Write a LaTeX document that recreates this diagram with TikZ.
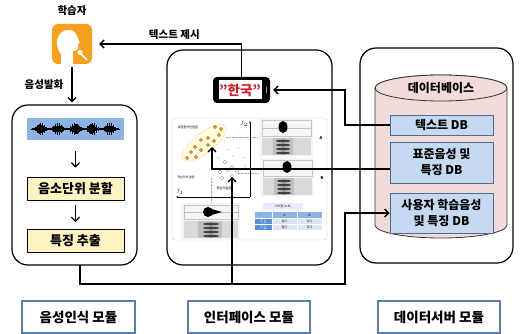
\documentclass[tikz,border=0pt]{standalone}
\usepackage{fontspec}
\setmainfont{Noto Sans CJK KR}
\usetikzlibrary{arrows.meta,calc}

\definecolor{iconorange}{HTML}{F5A01F}
\definecolor{wavebg}{HTML}{8DB3E2}
\definecolor{stepfill}{HTML}{FFF3C4}
\definecolor{dbfill}{HTML}{C5D9F1}
\definecolor{dbline}{HTML}{4F6B8A}
\definecolor{cylfill}{HTML}{F2DCDB}
\definecolor{tagline}{HTML}{5B7FA6}
\definecolor{dotorange}{HTML}{E2A634}
\definecolor{tblhead}{HTML}{8EB4E3}
\definecolor{tbldark}{HTML}{5B8FD3}
\definecolor{tbllight}{HTML}{DCE6F2}
\definecolor{phonered}{HTML}{D0202E}

\tikzset{
  module/.style={draw, line width=1.2pt, rounded corners=16pt, inner sep=0pt},
  stepbox/.style={draw, line width=0.8pt, fill=stepfill, inner sep=0pt,
    minimum width=97pt, minimum height=23pt, font=\fontsize{13}{15}\selectfont\bfseries},
  dbbox/.style={draw=dbline, line width=0.9pt, fill=dbfill, inner sep=0pt, align=center,
    minimum width=103pt, font=\fontsize{12}{16}\selectfont\bfseries},
  tagbox/.style={draw=tagline, line width=1.3pt, fill=white, inner sep=0pt,
    minimum height=32pt, font=\fontsize{13.5}{15}\selectfont\bfseries},
  wire/.style={line width=1.3pt},
  conn/.style={wire, -{Straight Barb[length=4pt,width=8pt]}},
  lbl/.style={font=\fontsize{10.5}{12}\selectfont\bfseries, inner sep=1pt},
  tiny/.style={font=\fontsize{3}{3.5}\selectfont, inner sep=0.6pt},
  spec/.style={draw=gray!45, line width=0.3pt},
}

\begin{document}
\begin{tikzpicture}[x=1pt,y=-1pt]
\useasboundingbox (0,0) rectangle (520,334);

% ---------- learner ----------
\node[lbl] (learnerlbl) at (72,11) {학습자};
\node[fill=iconorange, rounded corners=6pt, minimum size=40pt, inner sep=0pt] (icon) at (72,44) {};
\begin{scope}[shift={(icon.center)}]
  \fill[white] (-11,20) -- (-11,10) .. controls (-16,4) and (-17,-6) .. (-11,-11)
    .. controls (-6,-16) and (3,-15) .. (5,-8) -- (8,-1) -- (6,0) -- (6,4)
    .. controls (6,6) and (4,7) .. (1,7) -- (1,20) -- cycle;
  \draw[white, line width=1.6pt] (8,9) -- (15,16);
  \fill[white] (8,8.5) circle (2.6pt);
\end{scope}

% ---------- speech recognition module ----------
\node[module, minimum width=125pt, minimum height=160pt] (leftmod) at (74.5,185) {};
\node[fill=wavebg, minimum width=97pt, minimum height=22pt, inner sep=0pt] (wave) at (75.5,129) {};
\draw[line width=0.4pt] (31,129) -- (120,129);
\foreach \i in {0,...,86}{
  \pgfmathsetmacro\env{abs(sin(\i*10.5))}
  \pgfmathsetmacro\amp{0.5+6*\env*\env*(0.35+0.65*abs(sin(\i*83)))}
  \draw[line width=0.7pt] (32+\i,129-\amp) -- (32+\i,129+\amp);
}
\node[stepbox] (seg) at (75.5,188.5) {음소단위 분할};
\node[stepbox] (feat) at (75.5,241) {특징 추출};
\draw[conn, shorten <=11pt, shorten >=9pt] (wave.south) -- (seg.north);
\draw[conn, shorten <=5pt, shorten >=7pt] (seg.south) -- (feat.north);

% ---------- interface module ----------
\node[module, minimum width=165pt, minimum height=215pt] (ifmod) at (249.5,157.5) {};
\node[fill=black, rounded corners=4pt, minimum width=57pt, minimum height=26pt, inner sep=0pt] (phone) at (241.5,90) {};
\node[fill=white, minimum width=43pt, minimum height=19pt, inner sep=0pt,
  text=phonered, font=\fontsize{13.5}{15}\selectfont\bfseries] (screen) at (240,90) {"한국"};
\draw[gray!70, line width=1pt] (266.5,87) -- (266.5,93);

% analysis panel
\node[draw=gray!40, fill=white, rounded corners=3pt, minimum width=155pt, minimum height=122pt, inner sep=0pt] (panel) at (249.5,179) {};
% vowel space
\draw[fill=yellow!12, draw=orange!35, line width=0.4pt, rotate around={38:(204,143)}]
  (204,143) ellipse [x radius=27pt, y radius=10pt];
\foreach \p in {(215,127),(221,129),(219,135),(208,138),(201,140),(214,141),(208,145),
                (195,147),(201,150),(191,152),(196,157),(187,158)}
  \filldraw[fill=dotorange, draw=orange!70!black, line width=0.3pt] \p circle (1.7pt);
\foreach \p in {(228,150),(238,148),(233,156),(244,158),(224,141),(240,138),(218,158),(245,166),(226,185),(212,165)}
  \fill[gray!30] \p circle (1pt);
\foreach \p in {(225,162),(232,167),(220,172),(228,170),(237,171),(232,176),(222,178),(233,181)}
  \draw[gray!80, line width=0.4pt] \p circle (1.9pt);
\draw[densely dotted, gray!70, line width=0.4pt] (226,137) -- (258,137);
\draw[densely dotted, gray!70, line width=0.4pt] (238,173) -- (258,173);
\draw[densely dotted, gray!70, line width=0.4pt] (211,178) -- (211,203);
\draw[line width=0.5pt, -{Stealth[length=2.5pt]}] (250,197) -- (250,121);
\draw[line width=0.5pt, -{Stealth[length=2.5pt]}] (250,197) -- (176,197);
\node[tiny, font=\fontsize{4}{4}\selectfont] (ftwo) at (244,124) {$f_2$};
\node[tiny, font=\fontsize{4}{4}\selectfont] (fone) at (180,192) {$f_1$};
\node[tiny, fill=gray!10] (natlbl) at (188,127) {표준원어민 발음};
\node[tiny] (usrlbl) at (186,177) {학습자의 발음};
\node[tiny, fill=gray!10] (usrlbl2) at (224,188) {학습자 발음};
% spectrograms
\foreach \sx/\sy/\bx/\tag in {259/118/283/A, 260/158/287/B}{
  \fill[gray!8] (\sx,\sy) rectangle ++(54,39);
  \draw[spec] (\sx+3,\sy+2) rectangle ++(49,16);
  \draw[gray!50, line width=0.3pt] (\sx+3,\sy+10) -- ++(49,0);
  \fill[black] (\bx,\sy+9) ellipse [x radius=4.5pt, y radius=6pt];
  \fill[gray!30] (\sx+3,\sy+20) rectangle ++(49,17);
  \fill[gray!50] (\sx+14,\sy+20) rectangle ++(20,17);
  \foreach \k in {0,...,3}
    \fill[black!75] (\sx+24,\sy+23+\k*4) ellipse [x radius=7pt, y radius=1.3pt];
  \node[tiny, font=\fontsize{4}{4}\selectfont\bfseries] at (\sx+62,\sy+20) {\tag};
}
\fill[gray!8] (181,203) rectangle (240,240);
\draw[spec] (184,205) rectangle (238,219);
\draw[gray!50, line width=0.3pt] (184,212) -- (238,212);
\fill[black] (208,212) ellipse [x radius=5pt, y radius=5pt];
\fill[black] (208,208) -- (222,212) -- (208,216) -- cycle;
\fill[gray!30] (184,221) rectangle (238,238);
\fill[gray!50] (198,221) rectangle (222,238);
\foreach \k in {0,...,3}
  \fill[black!75] (211,224+\k*4) ellipse [x radius=8pt, y radius=1.3pt];
% difference table
\node[tiny, fill=blue!8, minimum width=40pt, minimum height=7pt] (difft) at (283,207) {차이점 (A-B)};
\fill[tblhead] (255,212) rectangle (322,218);
\fill[tbldark] (255,218) rectangle (272,230);
\fill[tbllight] (272,218) rectangle (322,230);
\draw[white, line width=0.4pt] (255,218) -- (322,218) (255,224) -- (322,224)
  (272,212) -- (272,230) (297,212) -- (297,230);
\node[tiny] at (284.5,215) {A};
\node[tiny] at (309.5,215) {B};
\node[tiny, text=white] at (263.5,221) {$f_1$};
\node[tiny, text=white] at (263.5,227) {$f_2$};
\node[tiny] at (284.5,221) {높다};
\node[tiny] at (309.5,221) {낮다};
\node[tiny] at (284.5,227) {앞다};
\node[tiny] at (309.5,227) {뒤다};
\coordinate (stdpt) at (212,147);
\coordinate (learnpt) at (232,177);

% ---------- data server module ----------
\node[module, minimum width=153pt, minimum height=215pt] (dbmod) at (436.5,155.5) {};
\filldraw[fill=cylfill, draw=black!80, line width=0.8pt]
  (375,88) -- (375,225) arc[start angle=180, end angle=360, x radius=66pt, y radius=13pt]
  -- (507,88) arc[start angle=0, end angle=180, x radius=66pt, y radius=13pt] -- cycle;
\draw[fill=cylfill, draw=black!80, line width=0.8pt] (441,88) ellipse [x radius=66pt, y radius=13pt];
\node[font=\fontsize{12}{14}\selectfont\bfseries] (dbtitle) at (441,88) {데이터베이스};
\node[dbbox, minimum height=20pt] (textdb) at (441.5,125) {텍스트 DB};
\node[dbbox, minimum height=41pt] (stddb) at (441.5,162.5) {표준음성 및\\특징 DB};
\node[dbbox, minimum height=40pt] (userdb) at (441.5,213) {사용자 학습음성\\및 특징 DB};

% ---------- connectors ----------
\draw[conn, shorten >=7pt] (phone.north) |- node[pos=0.725, above=3pt, lbl] (showlbl) {텍스트 제시} (icon.east);
\draw[conn, shorten <=3pt, shorten >=2pt] (icon.south) -- node[left=7pt, lbl] (speaklbl) {음성발화} (icon.south |- leftmod.north);
\coordinate (jx) at (345,0);
\draw[conn, shorten >=3pt] (textdb.west) -- (textdb.west -| jx) -- (jx |- phone.east) -- (phone.east);
\draw[conn] (stddb.west |- 0,169) -| (stdpt);
\coordinate (lmout) at (80,265);
\coordinate (busL) at (80,284);
\coordinate (busR) at (345,284);
\draw[conn] (lmout) -- (busL) -- (busR) -- (busR |- userdb.west) -- (userdb.west);
\draw[conn] (busR -| learnpt) -- (learnpt);

% ---------- module tags ----------
\node[tagbox, minimum width=113pt] (tag1) at (78.5,317) {음성인식 모듈};
\node[tagbox, minimum width=122pt] (tag2) at (249,317) {인터페이스 모듈};
\node[tagbox, minimum width=122pt] (tag3) at (439,317) {데이터서버 모듈};
\end{tikzpicture}
\end{document}
